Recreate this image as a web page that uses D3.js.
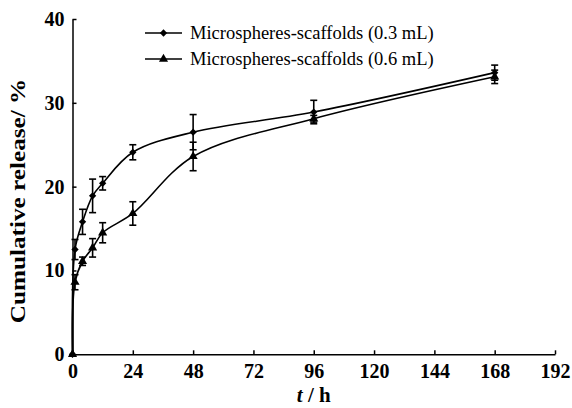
<!DOCTYPE html>
<html>
<head>
    <meta charset="utf-8">
    <title>Cumulative release</title>
    <script src="https://cdnjs.cloudflare.com/ajax/libs/d3/7.8.5/d3.min.js"></script>
    <style>
        body { margin: 0; background: #fff; }
        svg, svg text { font-family: "Liberation Serif", "Times New Roman", serif; }
        .axis path, .axis line { stroke: #000; stroke-width: 1.5; }
        .line { fill: none; stroke: #000; stroke-width: 1.6; }
        .err { stroke: #000; stroke-width: 1.6; }
    </style>
</head>
<body>
<script type="text/javascript">
    var width = 572, height = 408;

    // time points (h)
    var times = [0, 1, 4, 8, 12, 24, 48, 96, 168];
    // microspheres-scaffolds 0.3 mL
    var release03 = [0, 12.5, 15.8, 18.9, 20.4, 24.1, 26.5, 28.9, 33.6];
    var err03 = [0, 1.2, 1.5, 2.0, 0.8, 0.9, 2.1, 1.4, 0.9];
    // microspheres-scaffolds 0.6 mL
    var release06 = [0, 8.6, 11.1, 12.7, 14.5, 16.8, 23.6, 28.1, 33.1];
    var err06 = [0, 0.9, 0.5, 1.1, 1.2, 1.4, 1.7, 0.4, 0.8];

    var xTicks = [0, 24, 48, 72, 96, 120, 144, 168, 192];
    var yTicks = [0, 10, 20, 30, 40];
    var seriesNames = ["Microspheres-scaffolds (0.3 mL)", "Microspheres-scaffolds (0.6 mL)"];

    var svg = d3.select("body").append("svg")
        .attr("width", width)
        .attr("height", height);

    var xScale = d3.scaleLinear().domain([0, 192]).range([72.5, 555]),
        yScale = d3.scaleLinear().domain([0, 40]).range([354.3, 19]);

    var series = [
        { name: seriesNames[0], values: release03, errs: err03, symbol: d3.symbolDiamond2, size: 34 },
        { name: seriesNames[1], values: release06, errs: err06, symbol: d3.symbolTriangle, size: 36 }
    ];

    function styleTicks(g) {
        g.selectAll("text")
            .style("font-family", "'Liberation Serif', 'Times New Roman', serif")
            .style("font-size", "20px")
            .style("font-weight", "bold")
            .attr("fill", "#000");
    }

    // axes
    svg.append("g")
        .attr("class", "axis x-axis")
        .attr("transform", "translate(0," + yScale(0) + ")")
        .call(d3.axisBottom(xScale).tickValues(xTicks).tickSizeInner(-4).tickSizeOuter(0).tickPadding(10))
        .call(styleTicks);

    svg.append("g")
        .attr("class", "axis y-axis")
        .attr("transform", "translate(" + xScale(0) + ",0)")
        .call(d3.axisLeft(yScale).tickValues(yTicks).tickSizeInner(-4).tickSizeOuter(0).tickPadding(8))
        .call(styleTicks);

    var line = d3.line()
        .curve(d3.curveCatmullRom.alpha(0.5))
        .x(function (d) { return xScale(d.t); })
        .y(function (d) { return yScale(d.v); });

    series.forEach(function (s) {
        var pts = times.map(function (t, i) { return { t: t, v: s.values[i], e: s.errs[i] }; });

        svg.append("path")
            .attr("class", "line")
            .attr("d", line(pts));

        var eb = svg.append("g").selectAll("g")
            .data(pts.filter(function (d) { return d.e > 0; }))
            .enter().append("g").attr("class", "err");
        eb.append("line")
            .attr("x1", function (d) { return xScale(d.t); })
            .attr("x2", function (d) { return xScale(d.t); })
            .attr("y1", function (d) { return yScale(d.v - d.e); })
            .attr("y2", function (d) { return yScale(d.v + d.e); });
        [-1, 1].forEach(function (sign) {
            eb.append("line")
                .attr("x1", function (d) { return xScale(d.t) - 3.5; })
                .attr("x2", function (d) { return xScale(d.t) + 3.5; })
                .attr("y1", function (d) { return yScale(d.v + sign * d.e); })
                .attr("y2", function (d) { return yScale(d.v + sign * d.e); });
        });

        svg.append("g").selectAll("path")
            .data(pts)
            .enter().append("path")
            .attr("d", d3.symbol().type(s.symbol).size(s.size))
            .attr("transform", function (d) { return "translate(" + xScale(d.t) + "," + yScale(d.v) + ")"; })
            .attr("fill", "#000");
    });

    // legend
    var legend = svg.append("g").attr("transform", "translate(145,33)");
    series.forEach(function (s, i) {
        var row = legend.append("g").attr("transform", "translate(0," + (i * 26) + ")");
        row.append("line").attr("x1", 0).attr("x2", 37).attr("y1", 0).attr("y2", 0)
            .attr("stroke", "#000").attr("stroke-width", 1.6);
        row.append("path")
            .attr("d", d3.symbol().type(s.symbol).size(s.size))
            .attr("transform", "translate(18.5,0)")
            .attr("fill", "#000");
        row.append("text")
            .attr("x", 45).attr("y", 0).attr("dy", "0.35em")
            .style("font-size", "18.5px")
            .text(s.name);
    });

    // axis titles
    var xt = svg.append("text")
        .attr("x", (xScale(0) + xScale(192)) / 2)
        .attr("y", 402)
        .attr("text-anchor", "middle")
        .style("font-size", "21px").style("font-weight", "bold");
    xt.append("tspan").style("font-style", "italic").text("t");
    xt.append("tspan").text(" / h");

    svg.append("text")
        .attr("transform", "translate(25,201) rotate(-90) scale(1.2,1)")
        .attr("text-anchor", "middle")
        .style("font-size", "21px").style("font-weight", "bold")
        .text("Cumulative release/ %");
</script>
</body>
</html>
